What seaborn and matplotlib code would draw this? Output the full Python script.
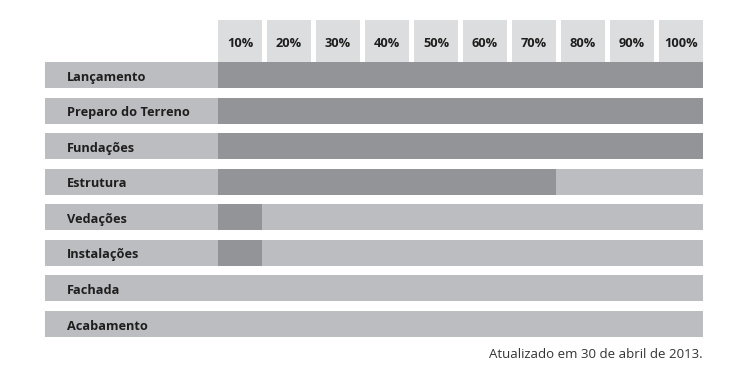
import matplotlib
matplotlib.use("Agg")
import matplotlib.pyplot as plt
import seaborn as sns
import pandas as pd

stages = ["Lançamento", "Preparo do Terreno", "Fundações", "Estrutura",
          "Vedações", "Instalações", "Fachada", "Acabamento"]
progress = [100, 100, 100, 70, 10, 10, 0, 0]
tick_labels = ["10%", "20%", "30%", "40%", "50%", "60%", "70%", "80%", "90%", "100%"]
footer = "Atualizado em 30 de abril de 2013."

LIGHT = "#bcbdc0"
DARK = "#939497"
HEAD = "#dcdddf"
TEXT = "#1e1e1e"

sns.set_theme(style="white")
plt.rcParams["font.family"] = ["Open Sans", "DejaVu Sans"]

W, H = 750, 377
fig = plt.figure(figsize=(W / 100, H / 100), dpi=100)
fig.patch.set_facecolor("white")

def fax(x0, y0, x1, y1):
    return fig.add_axes([x0 / W, 1 - y1 / H, (x1 - x0) / W, (y1 - y0) / H])

# layout (pixels)
BAR_L, BAR_R = 218, 703
PITCH, BOX = 49, 44          # header box pitch / width
GAP = PITCH - BOX
bar_w = 0.73

ax_rows = fax(BAR_L, 62, BAR_R, 337)
ax_lab = fax(45, 62, BAR_L, 337)
ax_head = fax(BAR_L, 20, BAR_R, 62)

df = pd.DataFrame({"stage": stages, "progress": progress,
                   "full": [100] * len(stages), "panel": [1] * len(stages)})

sns.barplot(data=df, x="full", y="stage", orient="h", color=LIGHT, saturation=1,
            width=bar_w, ax=ax_rows, linewidth=0)
sns.barplot(data=df, x="progress", y="stage", orient="h", color=DARK, saturation=1,
            width=bar_w, ax=ax_rows, linewidth=0)
# each 10% step ends at the right edge of its header box
px_per_unit = PITCH / 10
ax_rows.set_xlim(GAP / px_per_unit, 100)
ax_rows.set_ylim(len(stages) - 1 + bar_w / 2, -bar_w / 2)
ax_rows.axis("off")

sns.barplot(data=df, x="panel", y="stage", orient="h", color=LIGHT, saturation=1,
            width=bar_w, ax=ax_lab, linewidth=0)
ax_lab.set_xlim(0, 1)
ax_lab.set_ylim(len(stages) - 1 + bar_w / 2, -bar_w / 2)
ax_lab.axis("off")
for i, s in enumerate(stages):
    ax_lab.text(22 / (BAR_L - 45), i + 0.06, s, ha="left", va="center", fontsize=9.2,
                fontweight="bold", color=TEXT)

hdf = pd.DataFrame({"tick": tick_labels, "h": [1] * len(tick_labels)})
bw = BOX / PITCH
sns.barplot(data=hdf, x="tick", y="h", color=HEAD, saturation=1, width=bw,
            ax=ax_head, linewidth=0)
ax_head.set_xlim(-bw / 2, len(tick_labels) - 1 + bw / 2)
ax_head.set_ylim(0, 1)
ax_head.axis("off")
for i, t in enumerate(tick_labels):
    ax_head.text(i, 0.45, t, ha="center", va="center", fontsize=9.2,
                 fontweight="bold", color=TEXT)

fig.text(BAR_R / W, 1 - 355 / H, footer, ha="right", va="center", fontsize=9.5,
         color="#333333")

fig.savefig("out.png", dpi=100, facecolor="white")
